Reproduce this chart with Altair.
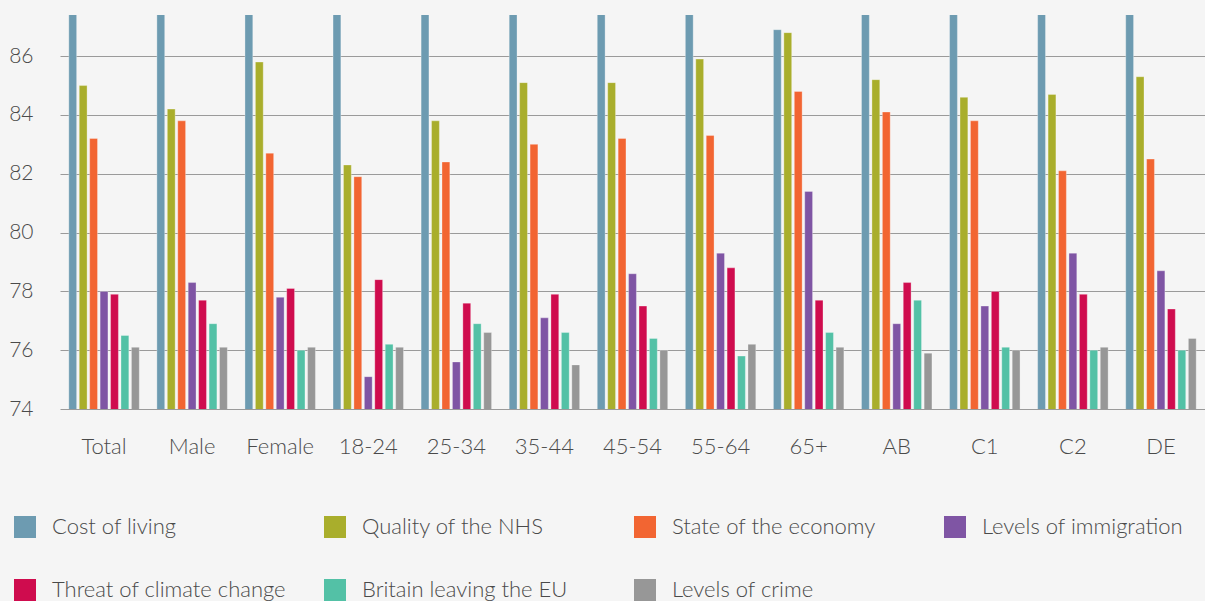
import altair as alt
import pandas as pd

# Groups along the x axis
groups = ["Total", "Male", "Female", "18-24", "25-34", "35-44", "45-54",
          "55-64", "65+", "AB", "C1", "C2", "DE"]

series = ["Cost of living", "Quality of the NHS", "State of the economy",
          "Levels of immigration", "Threat of climate change",
          "Britain leaving the EU", "Levels of crime"]

colors = ["#6d9bb1", "#a9ae2c", "#f26532", "#7f55a4", "#cf0c4e", "#53c1a6", "#979797"]

# Values per series, in the order of `groups`
cost_of_living = [89.0, 88.5, 89.5, 88.0, 89.0, 90.0, 89.5, 88.5, 86.9, 88.5, 89.5, 89.0, 89.0]
quality_nhs = [85.0, 84.2, 85.8, 82.3, 83.8, 85.1, 85.1, 85.9, 86.8, 85.2, 84.6, 84.7, 85.3]
state_economy = [83.2, 83.8, 82.7, 81.9, 82.4, 83.0, 83.2, 83.3, 84.8, 84.1, 83.8, 82.1, 82.5]
immigration = [78.0, 78.3, 77.8, 75.1, 75.6, 77.1, 78.6, 79.3, 81.4, 76.9, 77.5, 79.3, 78.7]
climate_change = [77.9, 77.7, 78.1, 78.4, 77.6, 77.9, 77.5, 78.8, 77.7, 78.3, 78.0, 77.9, 77.4]
leaving_eu = [76.5, 76.9, 76.0, 76.2, 76.9, 76.6, 76.4, 75.8, 76.6, 77.7, 76.1, 76.0, 76.0]
crime = [76.1, 76.1, 76.1, 76.1, 76.6, 75.5, 76.0, 76.2, 76.1, 75.9, 76.0, 76.1, 76.4]

values = [cost_of_living, quality_nhs, state_economy, immigration,
          climate_change, leaving_eu, crime]

rows = []
for name, vals in zip(series, values):
    for g, v in zip(groups, vals):
        rows.append({"group": g, "series": name, "value": v})
df = pd.DataFrame(rows)

FONT = "Source Sans Pro, Lato, sans-serif"
TEXT = "#4a4a4a"

chart = alt.Chart(df).mark_bar(
    clip=True, stroke="#ffffff", strokeWidth=0.6, strokeOpacity=0.5
).encode(
    x=alt.X("group:N", sort=groups, title=None,
            scale=alt.Scale(paddingInner=0.2, paddingOuter=0.1),
            axis=alt.Axis(labelAngle=0, ticks=False, tickSize=0, domain=False,
                          labelFontSize=22, labelFont=FONT, labelFontWeight=300,
                          labelColor=TEXT, labelPadding=27)),
    xOffset=alt.XOffset("series:N", sort=series,
                        scale=alt.Scale(paddingInner=0.25, paddingOuter=0)),
    y=alt.Y("value:Q", title=None,
            scale=alt.Scale(domain=[74, 87.4], nice=False, zero=False),
            axis=alt.Axis(values=[74, 76, 78, 80, 82, 84, 86], ticks=False, tickSize=0,
                          domain=False, grid=True, gridColor="#9a9a9a", gridWidth=1.2,
                          labelFontSize=21, labelFont=FONT, labelFontWeight=300,
                          labelColor=TEXT, labelPadding=27)),
    color=alt.Color("series:N", sort=series,
                    scale=alt.Scale(domain=series, range=colors),
                    legend=alt.Legend(
                        title=None, orient="none", legendX=-46, legendY=501,
                        direction="horizontal", columns=4, gridAlign="all",
                        columnPadding=38, rowPadding=41, padding=0,
                        symbolType="square", symbolSize=484, symbolStrokeWidth=0,
                        symbolOpacity=1, labelOffset=16,
                        labelFontSize=22, labelFont=FONT, labelFontWeight=300,
                        labelColor=TEXT, labelLimit=400)),
).properties(
    width=1145,
    height=394,
    autosize=alt.AutoSizeParams(type="none"),
    padding={"left": 60, "top": 15, "right": 0, "bottom": 192},
    background="#f5f5f5",
).configure_view(stroke=None)

chart.save("out.html", embed_options={"renderer": "svg", "actions": False})
